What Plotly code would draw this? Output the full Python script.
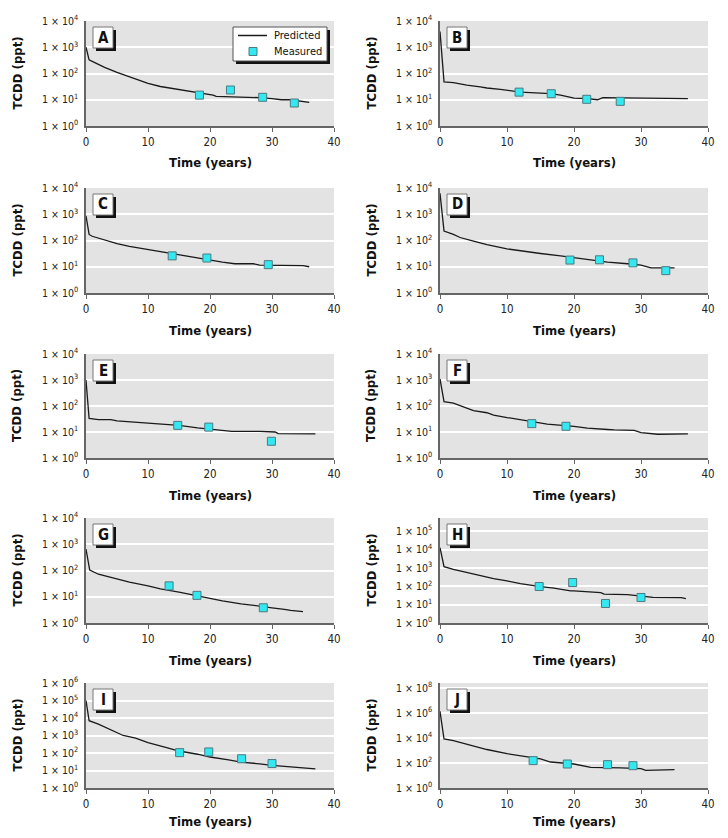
import plotly.graph_objects as go

# page body has an 8px margin, so the figure is 16px smaller than the window
OFF = 8
W, H = 728 - 2 * OFF, 838 - 2 * OFF
FONT = "DejaVu Sans Condensed, Liberation Sans Narrow, sans-serif"

letters = ["A", "B", "C", "D", "E", "F", "G", "H", "I", "J"]

# ---- Predicted curves (time in years, TCDD in ppt) ----
pred_A_t = [0, 0.5, 1, 3, 5, 6, 8, 10, 12, 14, 15.5, 17, 19, 20.5, 21, 24, 26, 28, 30, 31.5, 33, 34.5, 36]
pred_A_y = [1000, 330, 290, 170, 110, 90, 60, 42, 32, 27, 23, 20, 17, 15, 13.5, 13, 12.5, 12, 11, 10, 10, 9, 8]
pred_B_t = [0, 0.6, 2, 3, 4, 6, 7, 9, 10.5, 12, 15, 16.5, 18, 19.5, 20, 22, 23.5, 24.3, 30, 37]
pred_B_y = [4000, 48, 45, 40, 36, 31, 28, 25, 22, 19.5, 18, 17, 15, 12.5, 11.5, 11, 10, 12, 11.5, 11]
pred_C_t = [0, 0.5, 1, 3, 5, 7, 10, 12, 15, 17, 20, 22, 24, 27, 28, 32, 35, 36]
pred_C_y = [870, 170, 145, 105, 76, 60, 45, 37, 29, 23, 18, 15, 13, 13, 11.5, 11, 11, 10]
pred_D_t = [0, 0.6, 2, 3, 5, 7, 10, 13, 15, 18, 20, 23, 25, 28, 30, 31.5, 35]
pred_D_y = [6300, 230, 170, 130, 95, 70, 48, 37, 32, 26, 22, 18, 15, 13, 11.5, 9, 9]
pred_E_t = [0, 0.5, 2, 4, 5, 8, 10, 12, 15, 18, 20, 23.5, 28, 30.5, 31, 37]
pred_E_y = [1000, 33, 30, 30, 27, 24, 22, 20, 18, 14.5, 13, 10.5, 10.5, 10, 8.7, 8.5]
pred_F_t = [0, 0.6, 2, 3, 5, 7, 8, 10, 12, 15, 16, 20, 22, 25, 26, 29, 30, 32.5, 37]
pred_F_y = [1100, 148, 130, 105, 66, 55, 45, 36, 30, 23, 20, 16.5, 14, 12.5, 12, 11.5, 9.5, 8.2, 8.5]
pred_G_t = [0, 0.6, 2, 5, 7, 10, 12, 15, 17, 20, 22, 25, 28, 30, 32, 33, 35]
pred_G_y = [660, 103, 72, 46, 36, 26, 20, 15, 12, 8.6, 7, 5.4, 4.5, 3.8, 3.3, 3.0, 2.7]
pred_H_t = [0, 0.6, 2, 5, 8, 10, 12, 15, 17, 19.5, 20, 24, 24.5, 28, 30, 31.8, 36, 36.7]
pred_H_y = [12600, 1170, 840, 450, 260, 195, 140, 97, 80, 56, 56, 45, 37, 35, 30, 24.6, 24, 21]
pred_I_t = [0, 0.5, 2, 5, 6, 8, 10, 13, 15, 18, 20, 23, 25, 28, 30, 33, 37]
pred_I_y = [100000, 7000, 4500, 1500, 1000, 700, 390, 200, 130, 85, 59, 40, 30, 24, 19.5, 16, 12.5]
pred_J_t = [0, 0.6, 2, 5, 7, 10, 13, 15, 16.5, 20, 22.5, 25, 27, 30, 30.7, 35]
pred_J_y = [1.35e6, 8300, 6100, 2150, 1200, 560, 330, 210, 120, 83, 45, 45, 40, 35, 26, 29]

# ---- Measured values ----
meas_A_t = [18.3, 23.3, 28.5, 33.6]; meas_A_y = [15, 23.5, 12.4, 7.5]
meas_B_t = [11.8, 16.6, 21.9, 26.9]; meas_B_y = [19.5, 17, 10.4, 8.7]
meas_C_t = [13.9, 19.5, 29.4];       meas_C_y = [26, 21.5, 12]
meas_D_t = [19.4, 23.8, 28.8, 33.7]; meas_D_y = [18, 18.4, 14, 7.1]
meas_E_t = [14.8, 19.8, 29.9];       meas_E_y = [18, 15.4, 4.4]
meas_F_t = [13.7, 18.8];             meas_F_y = [21, 16.6]
meas_G_t = [13.4, 17.9, 28.6];       meas_G_y = [26, 11.3, 3.8]
meas_H_t = [14.8, 19.8, 24.7, 30.0]; meas_H_y = [97, 160, 11.6, 24.6]
meas_I_t = [15.1, 19.8, 25.1, 30.0]; meas_I_y = [105, 115, 47, 25]
meas_J_t = [13.9, 19.0, 25.0, 28.8]; meas_J_y = [155, 83, 74, 61]

# y-axis exponents per panel (ticks) and upper limit (log10)
y_exps = {
    "A": [0, 1, 2, 3, 4], "B": [0, 1, 2, 3, 4], "C": [0, 1, 2, 3, 4], "D": [0, 1, 2, 3, 4],
    "E": [0, 1, 2, 3, 4], "F": [0, 1, 2, 3, 4], "G": [0, 1, 2, 3, 4],
    "H": [0, 1, 2, 3, 4, 5], "I": [0, 1, 2, 3, 4, 5, 6], "J": [0, 2, 4, 6, 8],
}
y_top = {"A": 4, "B": 4, "C": 4, "D": 4, "E": 4, "F": 4, "G": 4, "H": 5.72, "I": 6, "J": 8.4}
x_ticks = [0, 10, 20, 30, 40]
legend_names = ["Predicted", "Measured"]

pred = {
    "A": (pred_A_t, pred_A_y), "B": (pred_B_t, pred_B_y), "C": (pred_C_t, pred_C_y),
    "D": (pred_D_t, pred_D_y), "E": (pred_E_t, pred_E_y), "F": (pred_F_t, pred_F_y),
    "G": (pred_G_t, pred_G_y), "H": (pred_H_t, pred_H_y), "I": (pred_I_t, pred_I_y),
    "J": (pred_J_t, pred_J_y),
}
meas = {
    "A": (meas_A_t, meas_A_y), "B": (meas_B_t, meas_B_y), "C": (meas_C_t, meas_C_y),
    "D": (meas_D_t, meas_D_y), "E": (meas_E_t, meas_E_y), "F": (meas_F_t, meas_F_y),
    "G": (meas_G_t, meas_G_y), "H": (meas_H_t, meas_H_y), "I": (meas_I_t, meas_I_y),
    "J": (meas_J_t, meas_J_y),
}

LINE_COLOR = "#1a1a1a"
MARK_FILL = "#33e8f0"
MARK_EDGE = "#4d7a80"

# ---- layout geometry (window pixels) ----
col_px = [(86, 334), (440, 708)]
row_px = [(21, 126), (188, 293), (354, 458), (518, 623), (683, 788)]
title_gap = [37, 37, 37, 37, 33]

def px(x):
    return (x - OFF) / W

def py(y):
    return 1 - (y - OFF) / H

fig = go.Figure()
layout = dict(
    width=W, height=H, margin=dict(l=0, r=0, t=0, b=0, autoexpand=False),
    paper_bgcolor="white", plot_bgcolor="#e3e3e3",
    font=dict(family=FONT, size=11, color="#222"),
    showlegend=False,
)
shapes = []
annotations = []

for i, L in enumerate(letters):
    r, c = divmod(i, 2)
    x0, x1 = col_px[c]
    t0, t1 = row_px[r]
    ax = "" if i == 0 else str(i + 1)
    xa = "x" + ax
    ya = "y" + ax
    layout["xaxis" + ax] = dict(
        domain=[px(x0), px(x1)], anchor=ya, range=[0, 40], automargin=False,
        tickvals=x_ticks, ticktext=[str(v) for v in x_ticks],
        showgrid=False, zeroline=False,
        showline=True, linecolor="#666", linewidth=1.5,
        ticks="outside", ticklen=4, tickcolor="#666", tickwidth=1,
        tickfont=dict(family=FONT, size=11.5, color="#222"),
        fixedrange=True,
    )
    ex = y_exps[L]
    layout["yaxis" + ax] = dict(
        domain=[py(t1), py(t0)], anchor=xa, type="log", range=[0, y_top[L]],
        automargin=False,
        tickvals=[10 ** e for e in ex],
        ticktext=["1 \u00d7 10<sup>%d</sup>" % e for e in ex],
        showgrid=True, gridcolor="white", gridwidth=1.5,
        zeroline=False, showline=True, linecolor="#666", linewidth=1.5,
        ticks="", ticklabelstandoff=4,
        tickfont=dict(family=FONT, size=10.5, color="#222"),
        fixedrange=True,
    )
    pt, pv = pred[L]
    mt, mv = meas[L]
    fig.add_trace(go.Scatter(
        x=pt, y=pv, mode="lines", name=legend_names[0],
        line=dict(color=LINE_COLOR, width=1.3),
        xaxis=xa, yaxis=ya, hoverinfo="skip",
    ))
    fig.add_trace(go.Scatter(
        x=mt, y=mv, mode="markers", name=legend_names[1],
        marker=dict(symbol="square", size=8, color=MARK_FILL,
                    line=dict(color=MARK_EDGE, width=1)),
        xaxis=xa, yaxis=ya, hoverinfo="skip",
    ))
    # axis titles
    annotations.append(dict(
        text="<b>TCDD (ppt)</b>", x=px(x0 - 69), y=py((t0 + t1) / 2),
        xref="paper", yref="paper", showarrow=False, textangle=-90,
        font=dict(family=FONT, size=13, color="#111"),
        xanchor="center", yanchor="middle",
    ))
    annotations.append(dict(
        text="<b>Time (years)</b>", x=px((x0 + x1) / 2), y=py(t1 + title_gap[r]),
        xref="paper", yref="paper", showarrow=False,
        font=dict(family=FONT, size=13, color="#111"),
        xanchor="center", yanchor="middle",
    ))
    # panel letter box with shadow
    bx0, by0 = x0 + 7, t0 + 6
    shapes.append(dict(type="rect", xref="paper", yref="paper", layer="above",
                       x0=px(bx0 + 3), x1=px(bx0 + 23), y0=py(by0 + 3), y1=py(by0 + 24),
                       fillcolor="#111", line=dict(width=0)))
    shapes.append(dict(type="rect", xref="paper", yref="paper", layer="above",
                       x0=px(bx0), x1=px(bx0 + 20), y0=py(by0), y1=py(by0 + 21),
                       fillcolor="white", line=dict(color="#777", width=1)))
    annotations.append(dict(
        text="<b>%s</b>" % L, x=px(bx0 + 10), y=py(by0 + 10.5),
        xref="paper", yref="paper", showarrow=False,
        font=dict(family=FONT, size=15, color="#111"),
        xanchor="center", yanchor="middle",
    ))

# ---- legend (panel A) ----
shapes.append(dict(type="rect", xref="paper", yref="paper", layer="above",
                   x0=px(236), x1=px(330), y0=py(30), y1=py(64),
                   fillcolor="#111", line=dict(width=0)))
shapes.append(dict(type="rect", xref="paper", yref="paper", layer="above",
                   x0=px(233), x1=px(327), y0=py(27), y1=py(61),
                   fillcolor="white", line=dict(color="#555", width=1)))
shapes.append(dict(type="line", xref="paper", yref="paper", layer="above",
                   x0=px(238), x1=px(267), y0=py(35.5), y1=py(35.5),
                   line=dict(color=LINE_COLOR, width=1.5)))
shapes.append(dict(type="rect", xref="paper", yref="paper", layer="above",
                   x0=px(249), x1=px(257), y0=py(47.5), y1=py(55.5),
                   fillcolor=MARK_FILL, line=dict(color=MARK_EDGE, width=1)))
for name, yy in zip(legend_names, [35.5, 51.5]):
    annotations.append(dict(
        text=name, x=px(272), y=py(yy), xref="paper", yref="paper",
        showarrow=False, xanchor="left", yanchor="middle",
        font=dict(family=FONT, size=11, color="#111"),
    ))

layout["shapes"] = shapes
layout["annotations"] = annotations
fig.update_layout(**layout)
fig.write_html("out.html")
